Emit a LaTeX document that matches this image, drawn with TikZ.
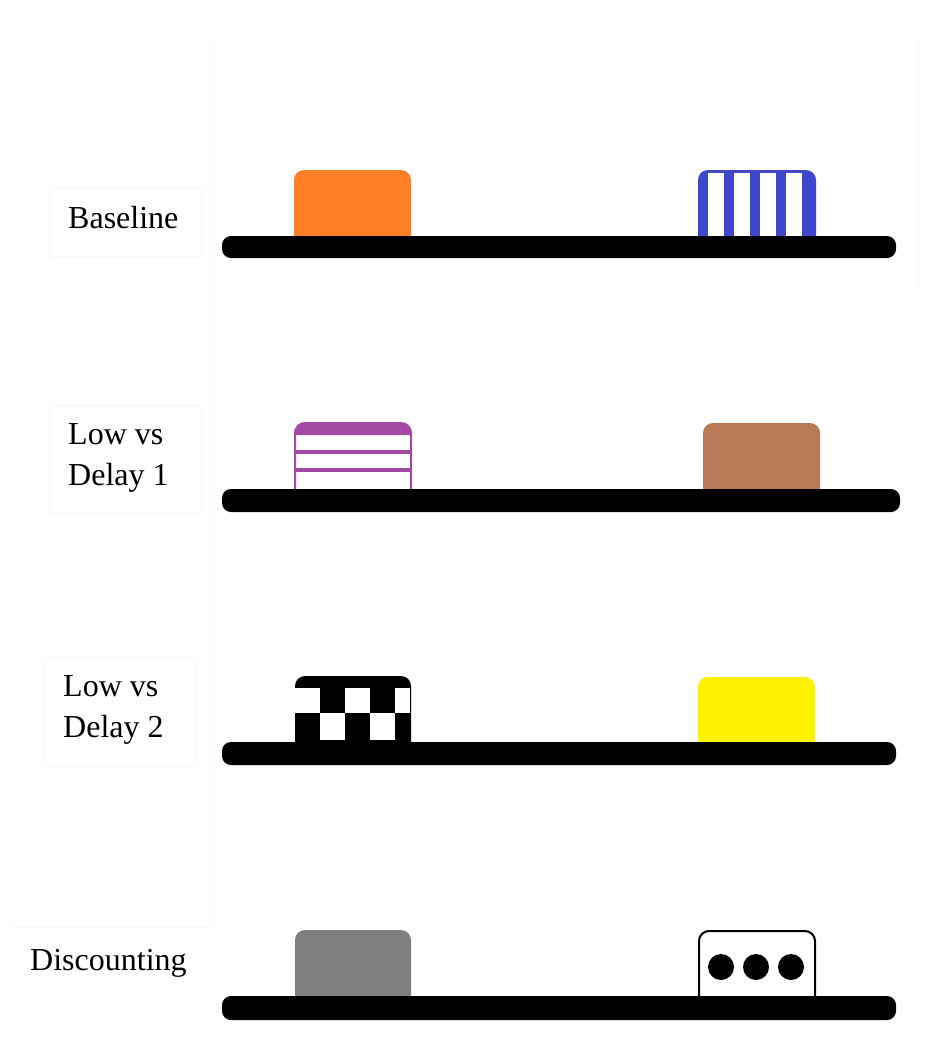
\documentclass[tikz,border=0pt]{standalone}
\usepackage{fontspec}
\setmainfont{Liberation Serif}
\definecolor{porange}{HTML}{FF7F27}
\definecolor{pblue}{HTML}{3F48CC}
\definecolor{ppurple}{HTML}{A349A4}
\definecolor{pbrown}{HTML}{B97A57}
\definecolor{pyellow}{HTML}{FFF200}
\definecolor{pgray}{HTML}{7F7F7F}
\definecolor{faint}{HTML}{F8F8F8}
\tikzset{
  lbl/.style={anchor=base west, inner sep=0pt, font=\fontsize{32}{41}\selectfont, align=left},
  bar/.style={fill=black, rounded corners=9pt},
  faintline/.style={draw=faint, line width=1pt},
}
\newcommand{\topbox}[5]{% options, x1, x2, ytop, ybot
  \path[#1] (#2,#5) {[rounded corners=10pt] -- (#2,#4) -- (#3,#4)} -- (#3,#5) -- cycle;}
\begin{document}
\begin{tikzpicture}[x=1pt,y=-1pt]
\useasboundingbox (0,0) rectangle (933,1042);
\fill[white] (0,0) rectangle (933,1042);
% faint frames
\draw[faintline] (49,187) rectangle (201,256);
\draw[faintline] (49,405) rectangle (201,513);
\draw[faintline] (44,657) rectangle (196,766);
\draw[faintline] (10,927) -- (213,927);
\draw[faintline] (213,40) -- (213,928);
\draw[faintline] (918,35) -- (918,288);
% labels
\node[lbl] (l1) at (68,228) {Baseline};
\node[lbl] (l2) at (68,485) {Low vs\\Delay 1};
\node[lbl] (l3) at (63,737) {Low vs\\Delay 2};
\node[lbl] (l4) at (30,970) {Discounting};
% row 1
\topbox{fill=porange}{294}{411}{170}{237}
\topbox{fill=pblue}{698}{816}{170}{237}
\foreach \a in {708,734,760,786} \fill[white] (\a,173) rectangle (\a+16,237);
\fill[bar] (222,236) rectangle (896,258);
% row 2
\topbox{fill=white}{295}{411}{423}{490}
\topbox{fill=ppurple}{295}{411}{423}{435}
\draw[ppurple, line width=4pt] (295,452) -- (411,452) (295,470) -- (411,470);
\topbox{draw=ppurple, line width=2pt}{295}{411}{423}{490}
\topbox{fill=pbrown}{703}{820}{423}{490}
\fill[bar] (222,489) rectangle (900,512);
% row 3
\topbox{fill=black}{295}{411}{676}{743}
\foreach \a in {295,345,395} \fill[white] (\a,688) rectangle ({min(\a+25,410)},713);
\foreach \a in {320,370} \fill[white] (\a,713) rectangle (\a+25,740);
\topbox{fill=pyellow}{698}{815}{677}{743}
\fill[bar] (222,742) rectangle (896,765);
% row 4
\topbox{fill=pgray}{295}{411}{930}{997}
\topbox{draw=black, line width=2pt, fill=white}{699}{815}{931}{997}
\foreach \a in {721,756,791} \fill[black] (\a,967) circle (13);
\fill[bar] (222,996) rectangle (896,1020);
\end{tikzpicture}
\end{document}
